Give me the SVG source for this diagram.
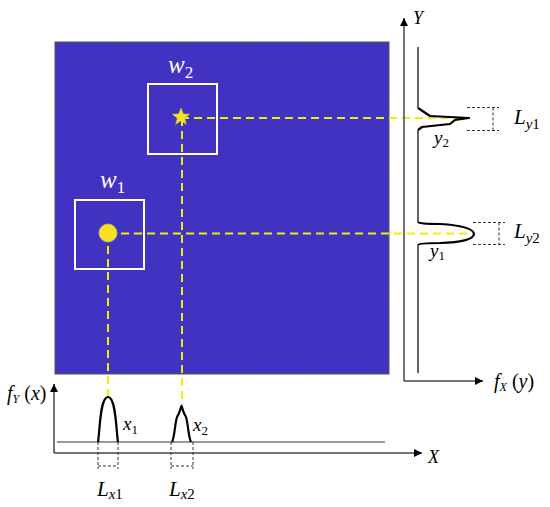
<svg xmlns="http://www.w3.org/2000/svg" width="550" height="507" viewBox="0 0 550 507" font-family="'Liberation Serif', 'Times New Roman', 'DejaVu Serif', serif">
<defs>
<style>
text, tspan{font-family:'Liberation Serif','Times New Roman','DejaVu Serif',serif}
text{fill:#000}
.it{font-style:italic}
.up{font-style:normal}
.wl{fill:#fff;font-style:italic;font-size:25px}
.tick{stroke:#555;stroke-width:1}
.win{fill:none;stroke:#fff;stroke-width:2}
.ydash{fill:none;stroke:#f2ee00;stroke-width:2;stroke-dasharray:8,5}
.bracket{fill:none;stroke:#333;stroke-width:1;stroke-dasharray:3,2}
.axis{fill:none;stroke:#444;stroke-width:1.5}
.thin{fill:none;stroke:#111;stroke-width:1.3}
.peak{fill:none;stroke:#000;stroke-width:2.2;stroke-linejoin:round}
.base{fill:none;stroke:#777;stroke-width:1.6}
</style>
<marker id="arr" viewBox="0 0 10 10" refX="10" refY="5" markerWidth="8" markerHeight="8" markerUnits="userSpaceOnUse" orient="auto">
<path d="M0,0 L10,5 L0,10 Z" fill="#000"/>
</marker>
</defs>

<g id="image">
<rect x="55" y="42" width="334" height="332" fill="#4132c2" stroke="#555" stroke-width="1"/>
<g class="tick">
<path d="M120,42v3M185,42v3M250,42v3M315,42v3M380,42v3"/>
<path d="M120,374v-3M185,374v-3M250,374v-3M315,374v-3M380,374v-3"/>
<path d="M55,106h3M55,171h3M55,236h3M55,301h3M55,366h3"/>
<path d="M389,106h-3M389,171h-3M389,236h-3M389,301h-3M389,366h-3"/>
</g>
</g>

<g id="window-w2">
<rect class="win" x="148" y="84" width="69" height="70"/>
<text x="168" y="73" class="wl">w<tspan class="up" font-size="17" dy="5">2</tspan></text>
</g>
<g id="window-w1">
<rect class="win" x="75" y="200" width="69" height="69"/>
<text x="100" y="188" class="wl">w<tspan class="up" font-size="17" dy="5">1</tspan></text>
</g>

<g id="connectors">
<path class="ydash" d="M181,118 H466"/>
<path class="ydash" d="M108,233.5 H472"/>
<path class="ydash" d="M108,233 V397"/>
<path class="ydash" d="M182,118 V406"/>
</g>

<g id="target-star">
<polygon points="181,108 183.23,113.93 189.56,114.22 184.61,118.17 186.29,124.28 181,120.8 175.71,124.28 177.39,118.17 172.44,114.22 178.77,113.93" fill="#f7e025" stroke="#c8d83a" stroke-width="0.6"/>
</g>
<g id="target-circle">
<circle cx="108" cy="233" r="9" fill="#f7df26" stroke="#b9d440" stroke-width="0.8"/>
</g>

<g id="right-plot">
<path class="axis" d="M404,381 V18" marker-end="url(#arr)"/>
<path class="axis" d="M404,381 H483" marker-end="url(#arr)"/>
<path class="thin" d="M418,47 V108 M418,130 V222 M418,245 V373"/>
<path class="peak" d="M418,108 L430,116 L469,118 L455,120 L450,124 L422,127 L418,130"/>
<path class="peak" d="M418,222 Q419,224 440,224 Q473,226 474,234 Q473,242 440,243 Q419,243 418,245"/>
<path class="bracket" d="M467,107.5 H499 M467,130.5 H499 M493,107.5 V130.5"/>
<path class="bracket" d="M473,222.5 H505 M473,244.5 H505 M499,222.5 V244.5"/>
<text x="413" y="24" class="it" font-size="18">Y</text>
<text x="434" y="144" class="it" font-size="19">y<tspan class="up" font-size="13" dy="3">2</tspan></text>
<text x="430" y="257" class="it" font-size="19">y<tspan class="up" font-size="13" dy="3">1</tspan></text>
<text x="514" y="124" class="it" font-size="21">L<tspan font-size="15" dy="5">y</tspan><tspan class="up" font-size="15">1</tspan></text>
<text x="514" y="238" class="it" font-size="21">L<tspan font-size="15" dy="5">y</tspan><tspan class="up" font-size="15">2</tspan></text>
<text x="494" y="388" class="it" font-size="20">f<tspan font-size="12" dy="3">X</tspan><tspan class="up" dy="-3"> (</tspan>y<tspan class="up">)</tspan></text>
</g>

<g id="bottom-plot">
<path class="axis" d="M54,453 V384" marker-end="url(#arr)"/>
<path class="axis" d="M54,453 H422" marker-end="url(#arr)"/>
<path class="base" d="M57,442 H385"/>
<path class="peak" d="M98,442 C100,430 100,397 108,397 C116,397 116,430 118,442"/>
<path class="peak" d="M172,442 C175,436 175,420 177.5,416 C179,414 180,410 181.5,406 C183,410 184,414 185.5,416 C188,420 188,436 191,442"/>
<path class="bracket" d="M98,442 V469 M118,442 V469 M98,466 H118"/>
<path class="bracket" d="M171,442 V469 M193,442 V469 M171,466 H193"/>
<text x="123" y="430" class="it" font-size="19">x<tspan class="up" font-size="13" dy="4">1</tspan></text>
<text x="193" y="431" class="it" font-size="19">x<tspan class="up" font-size="13" dy="4">2</tspan></text>
<text x="97" y="496" class="it" font-size="21">L<tspan font-size="15" dy="3">x</tspan><tspan class="up" font-size="15">1</tspan></text>
<text x="169" y="496" class="it" font-size="21">L<tspan font-size="15" dy="3">x</tspan><tspan class="up" font-size="15">2</tspan></text>
<text x="428" y="463" class="it" font-size="18">X</text>
<text x="7" y="400" class="it" font-size="20">f<tspan font-size="12" dy="3">Y</tspan><tspan class="up" dy="-3"> (</tspan>x<tspan class="up">)</tspan></text>
</g>
</svg>
